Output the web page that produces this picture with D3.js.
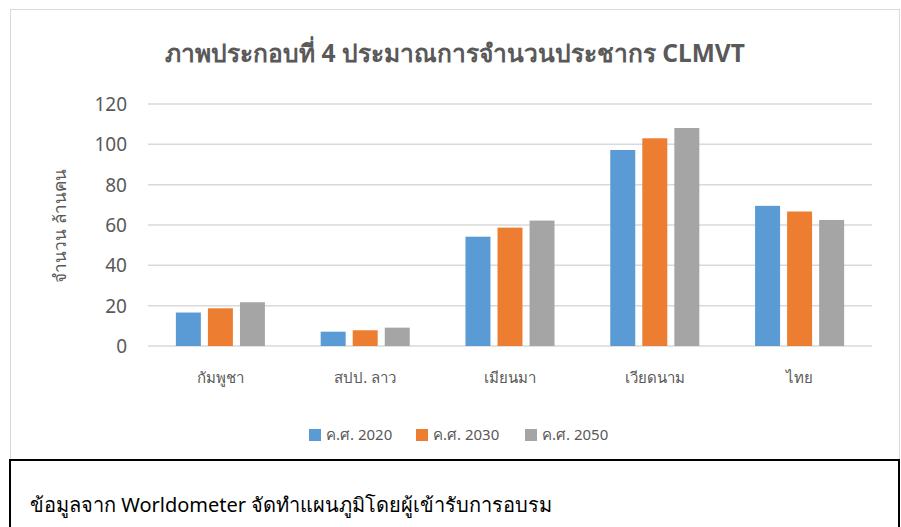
<!DOCTYPE html>
<meta charset="utf-8">
<title>CLMVT population</title>
<style>
body { margin: 0; background: #fff; }
svg { display: block; font-family: "Noto Sans", Tahoma, sans-serif; }
.grid line { stroke: #d9d9d9; stroke-width: 1.5; }
.tick-label { fill: #595959; font-size: 19px; }
.cat-label { fill: #595959; font-size: 15px; }
.legend text { fill: #595959; font-size: 15px; }
</style>
<body>
<script src="https://d3js.org/d3.v7.min.js"></script>
<script>

// data (millions of people)
var countries = ["กัมพูชา", "สปป. ลาว", "เมียนมา", "เวียดนาม", "ไทย"];
var seriesNames = ["ค.ศ. 2020", "ค.ศ. 2030", "ค.ศ. 2050"];
var y2020 = [16.6, 7.1, 54.2, 97.2, 69.5];
var y2030 = [18.7, 7.8, 58.7, 103.0, 66.7];
var y2050 = [21.7, 9.1, 62.2, 108.1, 62.5];
var yTicks = [0, 20, 40, 60, 80, 100, 120];
var colors = ["#5b9bd5", "#ed7d31", "#a5a5a5"];

var series = [y2020, y2030, y2050];

var width = 901, height = 527;
var plot = {left: 148, right: 872, top: 104, bottom: 346};

var svg = d3.select("body").append("svg")
    .attr("width", width)
    .attr("height", height);

// chart frame
svg.append("rect")
    .attr("x", 10.5).attr("y", 9.5)
    .attr("width", 889).attr("height", 450)
    .style("fill", "#fff")
    .style("stroke", "#d9d9d9")
    .style("stroke-width", 1);

var x0 = d3.scaleBand()
    .domain(countries)
    .range([plot.left, plot.right]);

var x1 = d3.scaleBand()
    .domain(d3.range(series.length))
    .range([0, x0.bandwidth()])
    .paddingInner(0.22)
    .paddingOuter(0.87);

var y = d3.scaleLinear()
    .domain([0, 120])
    .range([plot.bottom, plot.top]);

// gridlines
svg.append("g").attr("class", "grid")
  .selectAll("line")
    .data(yTicks)
  .enter().append("line")
    .attr("x1", plot.left).attr("x2", plot.right)
    .attr("y1", function(d) { return y(d); })
    .attr("y2", function(d) { return y(d); });

// y tick labels
svg.append("g").selectAll("text")
    .data(yTicks)
  .enter().append("text")
    .attr("class", "tick-label")
    .attr("x", 127)
    .attr("y", function(d) { return y(d); })
    .attr("dy", "0.36em")
    .attr("text-anchor", "end")
    .text(function(d) { return d; });

// bars
var groups = svg.append("g").selectAll("g")
    .data(countries)
  .enter().append("g")
    .attr("transform", function(d) { return "translate(" + x0(d) + ",0)"; });

groups.selectAll("rect")
    .data(function(d, i) { return series.map(function(s, j) { return {k: j, v: s[i]}; }); })
  .enter().append("rect")
    .attr("x", function(d) { return x1(d.k); })
    .attr("width", x1.bandwidth())
    .attr("y", function(d) { return y(d.v); })
    .attr("height", function(d) { return y(0) - y(d.v); })
    .style("fill", function(d) { return colors[d.k]; });

// category labels
svg.append("g").selectAll("text")
    .data(countries)
  .enter().append("text")
    .attr("class", "cat-label")
    .attr("x", function(d) { return x0(d) + x0.bandwidth() / 2; })
    .attr("y", 383)
    .attr("text-anchor", "middle")
    .text(function(d) { return d; });

// y axis title
svg.append("text")
    .attr("transform", "translate(66,226) rotate(-90)")
    .attr("text-anchor", "middle")
    .style("fill", "#595959")
    .style("font-size", "17px")
    .text("จำนวน ล้านคน");

// chart title
svg.append("text")
    .attr("x", 455)
    .attr("y", 62)
    .attr("text-anchor", "middle")
    .style("fill", "#595959")
    .style("font-size", "24.5px")
    .style("font-weight", "bold")
    .text("ภาพประกอบที่ 4 ประมาณการจำนวนประชากร CLMVT");

// legend
var legendX = [309, 416, 525];
var legend = svg.append("g").attr("class", "legend").selectAll("g")
    .data(seriesNames)
  .enter().append("g")
    .attr("transform", function(d, i) { return "translate(" + legendX[i] + ",429)"; });

legend.append("rect")
    .attr("width", 12).attr("height", 12)
    .style("fill", function(d, i) { return colors[i]; });

legend.append("text")
    .attr("x", 17).attr("y", 6)
    .attr("dy", "0.36em")
    .text(function(d) { return d; });

// source note box
svg.append("rect")
    .attr("x", 10).attr("y", 460)
    .attr("width", 889).attr("height", 80)
    .style("fill", "#fff")
    .style("stroke", "#000")
    .style("stroke-width", 2);

svg.append("text")
    .attr("x", 30)
    .attr("y", 512)
    .style("fill", "#000")
    .style("font-size", "20px")
    .text("ข้อมูลจาก Worldometer จัดทำแผนภูมิโดยผู้เข้ารับการอบรม");

</script>
</body>
